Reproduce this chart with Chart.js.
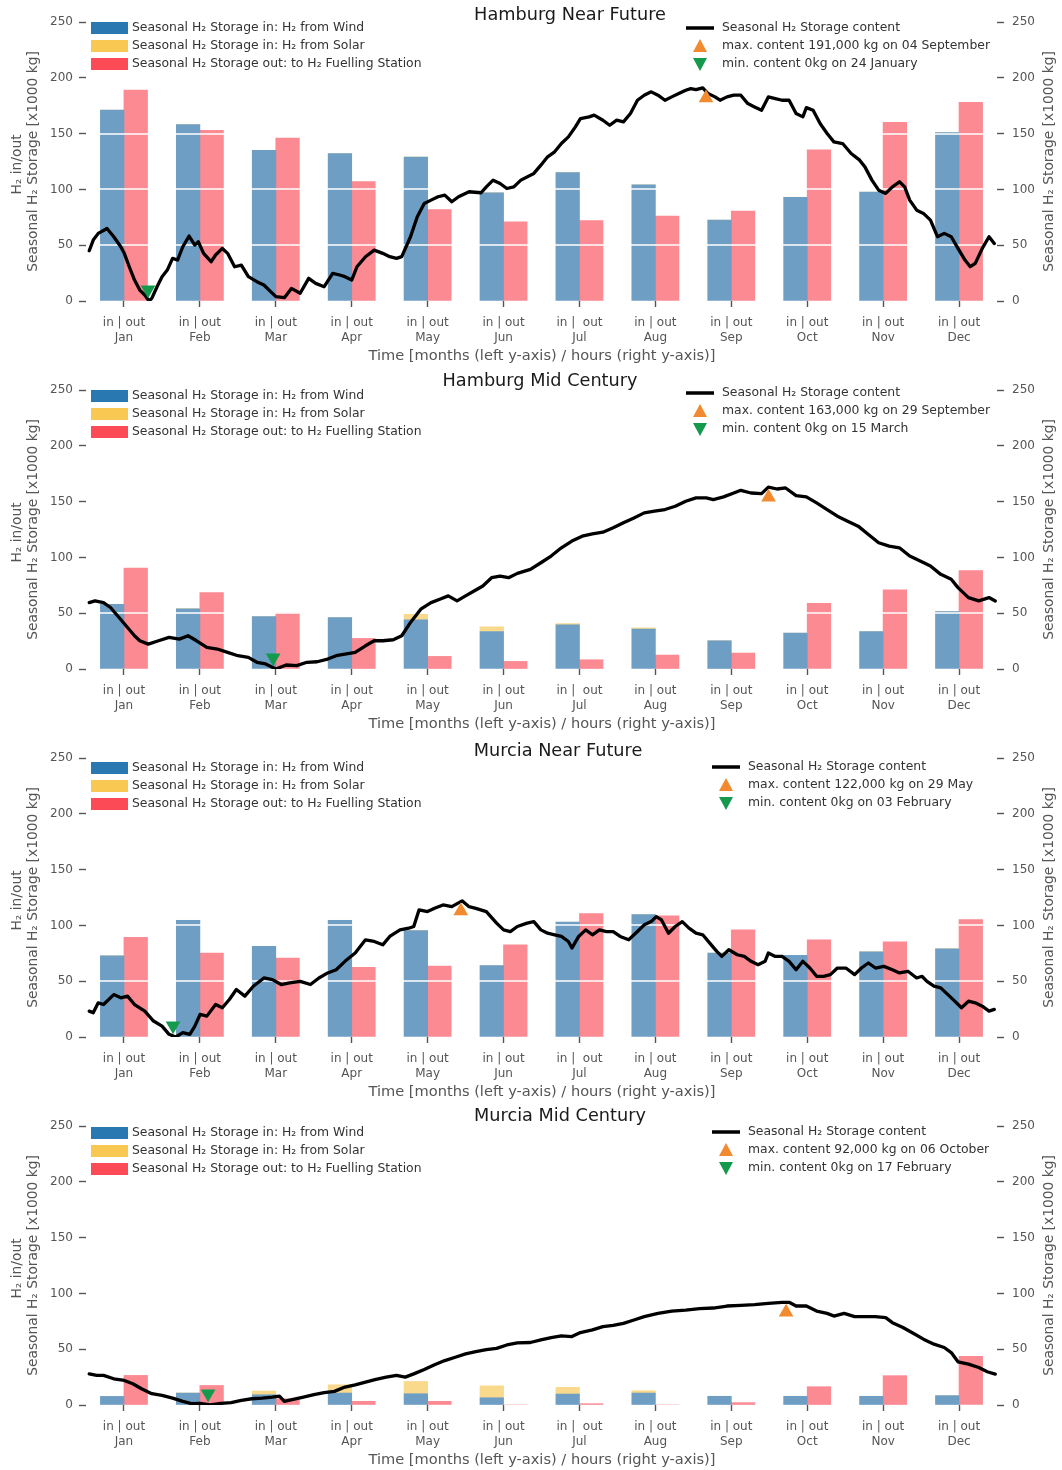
<!DOCTYPE html>
<html>
<head>
<meta charset="utf-8">
<title>Seasonal H2 storage</title>
<script src="https://cdn.jsdelivr.net/npm/chart.js@4.4.1/dist/chart.umd.min.js"></script>
<style>
    html, body { margin: 0; padding: 0; background: #fff; overflow: hidden; }
    canvas { display: block; }
</style>
</head>
<body>
<canvas id="chart0" width="1062" height="368"></canvas>
<canvas id="chart1" width="1062" height="368"></canvas>
<canvas id="chart2" width="1062" height="368"></canvas>
<canvas id="chart3" width="1062" height="368"></canvas>
<script>
// Data (x1000 kg)

const months = ['Jan', 'Feb', 'Mar', 'Apr', 'May', 'Jun', 'Jul', 'Aug', 'Sep', 'Oct', 'Nov', 'Dec'];
const inOutLabels = ['in | out', 'in | out', 'in | out', 'in | out', 'in | out', 'in | out',
    'in |  out', 'in | out', 'in | out', 'in | out', 'in | out', 'in | out'];
const yTicks = [0, 50, 100, 150, 200, 250];

// Hamburg Near Future
const hnfWind = [171, 158, 135, 132, 129, 97, 115, 104, 72.5, 93, 97.5, 151];
const hnfSolar = [0, 0, 0, 0, 0, 0, 0, 0, 0, 0, 0, 0];
const hnfOut = [189, 153, 146, 107, 82, 71, 72, 76, 80.6, 135.5, 160, 178];
const hnfDays = [0, 1.6, 3.6, 6.4, 7.1, 9.8, 12.6, 14, 16, 18.1, 20.2, 22.2, 23.9, 25, 27.1, 29.1, 31.2, 33.3, 35.3, 37.4,
    39.9, 42.2, 43.6, 45.7, 48.7, 50.5, 53.2, 55.3, 58.1, 60.8, 63.6, 67, 69.8, 72.5, 74.6, 78, 80.8, 84.3, 87.7, 90.5,
    93.9, 97.3, 100.1, 102.2, 104.9, 107, 110.4, 113.9, 117.3, 120.1, 122.8, 124.9, 128.4, 131.1, 133.9, 136.6, 139.4,
    142.1, 144.9, 147.6, 151.8, 156.6, 158.7, 161.4, 164.2, 166.9, 169.7, 172.5, 177.7, 180.5, 183.2, 186, 188.7, 191.5,
    194.3, 196.3, 199.8, 201.8, 205.3, 208, 210.8, 213.5, 216.3, 219.1, 221.8, 224.6, 227.3, 230.1, 232.8, 235.6, 238.4,
    240.4, 242.5, 245.2, 247.3, 250.1, 252.1, 254.9, 257.6, 260.4, 263.2, 265.9, 268.7, 271.4, 274.2, 276.9, 279.7,
    282.5, 285.2, 286.6, 289.3, 292.1, 294.9, 297.6, 301.1, 304.5, 307.9, 310, 312.8, 315.5, 318.3, 321, 323.8, 325.9,
    327.9, 330.7, 333.4, 336.2, 339, 341.7, 344.5, 347.2, 350, 352.1, 354.1, 356.9, 359.6, 361.7];
const hnfContent = [45, 54.6, 60.6, 64.1, 65, 57.6, 48.6, 42.7, 30.7, 18.8, 9.8, 5.4, 0, 2.4, 12.8, 21.8, 27.7, 38.2, 36.7, 48.6,
    58.2, 50.1, 53.1, 42.7, 35.2, 41.2, 47.1, 42.7, 30.7, 32.2, 21.8, 17.3, 14.3, 8.4, 3.9, 3, 11.3, 6.9, 20.3, 15.8,
    12.8, 24.8, 23.3, 21.8, 18.8, 30.7, 39.7, 45.6, 42.7, 39.7, 38.2, 39.7, 57.6, 75.5, 87.4, 90.4, 93.4,
    94.9, 88.9, 93.4, 97.9, 97, 102.3, 108.3, 105.3, 100.8, 102.3, 108.3, 114.3, 121.7, 129.2, 133.7, 141.1, 147.1,
    156, 163.5, 165, 166.5, 162, 157.5, 162, 160.5, 168, 179.9, 184.4, 187.4, 184.4, 179.9, 182.9, 185.9, 188.8,
    190.3, 189.4, 191, 185.9, 182.9, 179.9, 182.9, 184.4, 184.4, 176.9, 173.9, 170.9, 182.9, 181.4, 179.9, 179.9,
    168, 165, 173.3, 170.9, 159, 150.1, 142.6, 141.1, 132.2, 126.2, 120.2, 108.3, 99.3, 96.4, 102.3, 106.8, 102.3,
    90.4, 81.4, 78.5, 72.5, 57.6, 60.6, 57.6, 47.1, 36.7, 30.7, 33.7, 47.1, 57.6, 51.6];

// Hamburg Mid Century
const hmcWind = [58, 54, 47, 46, 44, 33.6, 39.5, 35.7, 25.3, 32.1, 33.6, 51.4];
const hmcSolar = [0, 0, 0, 0, 5, 4.2, 1.2, 1.1, 0, 0, 0, 0];
const hmcOut = [90.5, 68.5, 50, 27.4, 11.3, 6.8, 8.3, 12.5, 14.3, 58.8, 71, 88.2];
const hmcDays = [0, 2.3, 5.7, 8.5, 11.9, 15.3, 18.1, 20.2, 23.6, 27.7, 31.9, 36, 39.5, 42.9, 47, 51.2, 55.3, 59.4, 63.6, 67,
    70.5, 74.6, 78.7, 82.9, 87, 91.1, 95.3, 98.7, 102.2, 106.3, 110.4, 113.9, 117.3, 121.5, 124.9, 128.4, 132.5, 136.6,
    140.1, 143.5, 147, 150.4, 153.8, 157.3, 160.8, 164.2, 167.6, 171.1, 176.3, 180.5, 184.6, 188.7, 192.9, 197, 201.1,
    205.3, 209.4, 213.5, 217.7, 221.8, 225.9, 230.1, 234.2, 238.4, 242.5, 246.6, 249.4, 253.5, 257.6, 260.4, 264.5,
    268.7, 271.4, 274.9, 278.3, 282.5, 286.6, 290.7, 294.9, 299, 303.1, 307.3, 311.4, 315.5, 319.7, 323.8, 327.9,
    332.1, 336.2, 340.3, 344.5, 347.2, 351.4, 355.5, 359.6, 362.1];
const hmcContent = [59.5, 61, 59.5, 55.1, 46.1, 37.2, 29.8, 25.3, 22.3, 25.3, 28.3, 26.8, 29.8, 25.3, 19.3, 17.9, 14.9, 11.9, 10.4, 6,
    4.5, 0, 3.6, 3, 6, 6.5, 8.9, 11.9, 13.4, 14.9, 20.8, 25.3, 25.3, 26.2, 29.8, 41.7, 53.6, 59.5,
    62.5, 65.5, 61, 65.5, 69.9, 74.4, 81.8, 83.3, 81.8, 85.7, 89.3, 95.2, 101.2, 108.6, 114.6, 119, 121.1,
    122.6, 126.5, 131, 135.4, 139.9, 141.4, 142.9, 145.8, 150.3, 153.3, 153.3, 151.8, 154.2, 157.7, 160.1, 157.7,
    157.1, 163, 161.3, 162.2, 155.4, 154.2, 148.8, 142.9, 136.9, 132.4, 128, 120.5, 113.1, 110.1, 108.6, 101.2,
    96.7, 92.3, 84.8, 80.4, 72.9, 64, 61, 64, 61];

// Murcia Near Future
const mnfWind = [72.8, 104.6, 81.2, 104.6, 95.4, 63.9, 102.9, 109.7, 75.2, 73.1, 76.4, 79.1];
const mnfSolar = [0, 0, 0, 0, 0, 0, 0, 0, 0, 0, 0, 0];
const mnfOut = [89.2, 75.2, 70.7, 62.4, 63.6, 82.6, 110.6, 108.5, 96, 87.1, 85.3, 105.2];
const mnfDays = [0, 1.6, 3.6, 5.7, 9.8, 12.6, 15.3, 18.1, 22.2, 25.7, 29.1, 31.9, 34.6, 37.4, 40.2, 42.2, 44.3, 47, 50.5, 53.2,
    56, 58.8, 62.2, 65.6, 69.8, 73.2, 76.7, 80.1, 84.3, 88.4, 91.8, 95.3, 98.7, 102.2, 106.3, 110.4, 113.9, 117.3, 120.1,
    124.2, 127.7, 129.7, 131.8, 135.2, 138, 141.4, 144.9, 149, 151.8, 154.5, 158.7, 162.8, 165.6, 168.3, 171.1, 175,
    177.7, 180.5, 183.2, 186, 188.7, 191.5, 192.9, 195.6, 198.4, 201.1, 203.9, 206.7, 209.4, 212.2, 215.6, 219.1, 221.8,
    224.6, 226.6, 228.7, 231.5, 234.2, 237, 239.7, 242.5, 245.2, 248, 250.8, 252.8, 255.6, 259, 261.8, 264.5, 267.3,
    270.1, 271.4, 274.2, 276.9, 279.7, 282.5, 285.2, 288, 290.7, 293.5, 296.2, 299, 302.4, 305.9, 308.6, 311.4, 314.2,
    317.6, 321, 323.8, 327.2, 330.7, 332.8, 334.8, 337.6, 340.3, 343.8, 345.9, 348.6, 351.4, 354.1, 356.9, 359.6, 361.7];
const mnfContent = [23.2, 21.7, 30.6, 29.1, 38, 35.1, 36.6, 29.1, 23.2, 14.3, 9.8, 2.4, 0, 3.9, 2.4, 9.8, 20.2, 18.7, 29.1, 26.2,
    33.6, 42.5, 36.6, 45.5, 52.9, 51.4, 47, 48.5, 49.9, 47, 52.9, 57.4, 60.3, 67.8, 75.2, 87.1, 85.6, 82.6, 90.1,
    96, 97.5, 99, 113.9, 112.4, 115.3, 118.3, 116.8, 122, 116.8, 115.3, 112.4, 102, 96, 94.5, 99, 102,
    103.4, 96, 93, 91.6, 90.1, 85.6, 79.7, 90.1, 96, 91.6, 96, 94.5, 94.5, 90.1, 87.1, 94.5, 100.5,
    103.4, 107.9, 104.9, 93, 99, 103.4, 97.5, 93, 91.6, 84.1, 76.7, 72.2, 78.2, 73.7, 72.2, 67.8, 64.8,
    67.8, 75.2, 72.2, 72.2, 67.8, 60.3, 67.8, 61.8, 54.4, 54.4, 55.9, 61.8, 61.8, 55.9, 61.8, 66.3, 61.8,
    63.3, 60.3, 57.4, 58.9, 52.9, 54.4, 49.9, 45.5, 44, 36.6, 32.1, 26.2, 32.1, 30.6, 27.6, 23.2, 24.7];

// Murcia Mid Century
const mmcWind = [7.7, 10.7, 9.2, 10.7, 10.1, 6.5, 9.8, 10.7, 7.8, 7.8, 7.8, 8.4];
const mmcSolar = [0, 0, 3.3, 7.4, 11, 10.7, 6, 2.1, 0, 0, 0, 0];
const mmcOut = [26.5, 17.5, 5.6, 3.3, 3.3, 0, 1.2, 0, 2.1, 16.4, 26.3, 43.6];
const mmcDays = [0, 3, 5.7, 9.8, 14, 17.4, 20.9, 25, 29.1, 33.3, 37.4, 40.8, 44.3, 48.4, 52.6, 56.7, 60.8, 65, 69.1, 73.2,
    76, 78, 81.5, 85.6, 89.8, 93.9, 98, 102.2, 106.3, 110.4, 114.6, 118.7, 122.8, 126.3, 129.7, 133.9, 138, 142.1,
    146.3, 150.4, 154.5, 158.7, 162.8, 166.9, 171.1, 176.3, 180.5, 184.6, 188.7, 192.9, 196.3, 201.1, 205.3, 209.4,
    213.5, 217.7, 221.8, 227.3, 232.8, 238.4, 243.9, 249.4, 254.9, 260.4, 265.9, 271.4, 276.9, 279.7, 282.5, 286.6,
    290.7, 294.9, 297.6, 301.7, 305.9, 310, 314.1, 318.3, 321, 325.2, 329.3, 333.4, 337.6, 341.7, 344.5, 347.2, 351.4,
    355.5, 358.9, 362.1];
const mmcContent = [27.9, 26.5, 26.5, 23.5, 22, 19, 14.6, 10.1, 8.6, 6.2, 3.3, 1.2, 1.5, 0, 1.5, 2.1, 4.2, 5.6, 6.2, 7.1,
    8, 3.3, 5.1, 7.1, 9.2, 11, 12.2, 16.1, 18.1, 20.5, 22.9, 25, 26.5, 25, 27.9, 31.8, 36, 39.8,
    42.8, 45.8, 47.9, 49.6, 50.8, 53.8, 55.6, 56, 58.3, 60.4, 61.9, 61.3, 64.9, 67.3, 70.2, 71.4,
    73.2, 76.2, 79.2, 82.1, 84.2, 85.1, 86.3, 86.9, 88.7, 89.3, 89.9, 91.1, 92, 92, 88.7, 88.7,
    84.2, 82.1, 79.7, 82.1, 79.2, 79.2, 79.2, 78.3, 73.8, 69.4, 64.3, 59, 54.5, 51.5, 47, 38.7, 36.6,
    33.6, 29.8, 27.7];

// Max / min of storage content: value (x1000 kg), date [month index, day]
const maxContent = [191, 163, 122, 92];
const maxDates = [[8, 4], [8, 29], [4, 29], [9, 6]];
const minContent = [0, 0, 0, 0];
const minDates = [[0, 24], [2, 15], [1, 3], [1, 17]];

const titles = ['Hamburg Near Future', 'Hamburg Mid Century', 'Murcia Near Future', 'Murcia Mid Century'];
const maxTexts = ['max. content 191,000 kg on 04 September', 'max. content 163,000 kg on 29 September',
    'max. content 122,000 kg on 29 May', 'max. content 92,000 kg on 06 October'];
const minTexts = ['min. content 0kg on 24 January', 'min. content 0kg on 15 March',
    'min. content 0kg on 03 February', 'min. content 0kg on 17 February'];

// Style
const FONT = "'DejaVu Sans', 'Liberation Sans', sans-serif";
Chart.defaults.font.family = FONT;

const colors = {
    windBar: '#6e9ec4',
    solarBar: '#f9d98c',
    outBar: '#fb8a93',
    windPatch: '#2a78b2',
    solarPatch: '#f8c852',
    outPatch: '#fc4a57',
    maxMarker: '#f28b30',
    minMarker: '#139a4c',
    text: '#555',
    tick: '#555'
};

const layouts = [
    { titleX: 570, titleY: 15, leftLegendY: 28, rightLegendX: 686, rightLegendY: 28 },
    { titleX: 540, titleY: 13, leftLegendY: 28, rightLegendX: 686, rightLegendY: 25 },
    { titleX: 558, titleY: 15, leftLegendY: 32, rightLegendX: 712, rightLegendY: 31 },
    { titleX: 560, titleY: 12, leftLegendY: 29, rightLegendX: 712, rightLegendY: 28 }
];

const BAR_WIDTH = 23.6;     // px, one bar of the in|out pair
const PAIR_SHIFT = 0.155;   // fraction of a month slot, half a bar

const MONTH_DAYS = [31, 28, 31, 30, 31, 30, 31, 31, 30, 31, 30, 31];
const dateToHour = ([m, d]) => {
    let day = d - 1;
    for (let i = 0; i < m; i++) day += MONTH_DAYS[i];
    return (day + 0.5) * 24;
};

const drawTriangle = (ctx, cx, cy, half, up, color) => {
    ctx.fillStyle = color;
    ctx.beginPath();
    if (up) {
        ctx.moveTo(cx, cy - half);
        ctx.lineTo(cx + half, cy + half - 1);
        ctx.lineTo(cx - half, cy + half - 1);
    } else {
        ctx.moveTo(cx, cy + half);
        ctx.lineTo(cx + half, cy - half + 1);
        ctx.lineTo(cx - half, cy - half + 1);
    }
    ctx.closePath();
    ctx.fill();
};

// white grid lines sit on top of the bars but under the storage line
const decorPlugin = {
    id: 'decor',
    beforeDatasetDraw(chart, args) {
        if (args.index !== 3) return;
        const { ctx, chartArea } = chart;
        const scale = chart.scales.y;
        ctx.save();
        ctx.strokeStyle = '#ffffff';
        ctx.lineWidth = 1.6;
        [50, 100, 150, 200].forEach(v => {
            const py = Math.round(scale.getPixelForValue(v));
            ctx.beginPath();
            ctx.moveTo(chartArea.left, py);
            ctx.lineTo(chartArea.right, py);
            ctx.stroke();
        });
        ctx.restore();
    },
    afterDraw(chart, args, opts) {
        const { ctx, chartArea } = chart;
        const midY = (chartArea.top + chartArea.bottom) / 2;
        ctx.save();

        // title
        ctx.fillStyle = '#1a1a1a';
        ctx.font = `17.7px ${FONT}`;
        ctx.textAlign = 'center';
        ctx.textBaseline = 'middle';
        ctx.fillText(opts.title, opts.titleX, opts.titleY);

        // axis titles
        ctx.fillStyle = colors.text;
        ctx.font = `14.6px ${FONT}`;
        ctx.fillText('Time [months (left y-axis) / hours (right y-axis)]', 542, 356);

        ctx.font = `13.8px ${FONT}`;
        ctx.save();
        ctx.translate(17, midY + 3);
        ctx.rotate(-Math.PI / 2);
        ctx.fillText('H₂ in/out', 0, 0);
        ctx.restore();
        ctx.save();
        ctx.translate(33, midY);
        ctx.rotate(-Math.PI / 2);
        ctx.fillText('Seasonal H₂ Storage [x1000 kg]', 0, 0);
        ctx.restore();
        ctx.save();
        ctx.translate(1049, midY);
        ctx.rotate(-Math.PI / 2);
        ctx.fillText('Seasonal H₂ Storage [x1000 kg]', 0, 0);
        ctx.restore();

        // left legend
        ctx.font = `12.4px ${FONT}`;
        ctx.textAlign = 'left';
        const leftItems = [
            [colors.windPatch, 'Seasonal H₂ Storage in: H₂ from Wind'],
            [colors.solarPatch, 'Seasonal H₂ Storage in: H₂ from Solar'],
            [colors.outPatch, 'Seasonal H₂ Storage out: to H₂ Fuelling Station']
        ];
        leftItems.forEach(([color, text], i) => {
            const cy = opts.leftLegendY + i * 18;
            ctx.fillStyle = color;
            ctx.fillRect(91, cy - 6, 37, 12);
            ctx.fillStyle = '#333';
            ctx.fillText(text, 132, cy);
        });

        // right legend
        const lx = opts.rightLegendX;
        const ly = opts.rightLegendY;
        ctx.strokeStyle = '#000';
        ctx.lineWidth = 3.5;
        ctx.beginPath();
        ctx.moveTo(lx, ly);
        ctx.lineTo(lx + 28, ly);
        ctx.stroke();
        drawTriangle(ctx, lx + 14, ly + 18, 7, true, colors.maxMarker);
        drawTriangle(ctx, lx + 14, ly + 36, 7, false, colors.minMarker);
        ctx.fillStyle = '#333';
        ctx.fillText('Seasonal H₂ Storage content', lx + 36, ly);
        ctx.fillText(opts.maxText, lx + 36, ly + 18);
        ctx.fillText(opts.minText, lx + 36, ly + 36);

        ctx.restore();
    }
};

const tickFont = { family: FONT, size: 12 };

const yAxis = (position, width) => ({
    position,
    min: 0,
    max: 250,
    stacked: true,
    afterBuildTicks: scale => { scale.ticks = yTicks.map(v => ({ value: v })); },
    afterFit: scale => { scale.width = width; },
    ticks: { color: colors.tick, font: tickFont, padding: position === 'left' ? 6 : 8 },
    grid: { drawOnChartArea: false, drawTicks: true, tickLength: 7, tickColor: colors.tick, tickWidth: 1.4 },
    border: { display: false }
});

const barSet = (values, shift, color) => ({
    data: values.map((v, k) => ({ x: k + shift, y: v })),
    xAxisID: 'xb',
    yAxisID: 'y',
    backgroundColor: color,
    barThickness: BAR_WIDTH,
    grouped: false,
    order: 3
});

const createPanel = (canvasId, i, wind, solar, out, days, content) => {
    const layout = layouts[i];
    return new Chart(document.getElementById(canvasId), {
        type: 'bar',
        data: {
            labels: months.map((m, k) => [inOutLabels[k], m]),
            datasets: [
                barSet(wind, -PAIR_SHIFT, colors.windBar),
                barSet(solar, -PAIR_SHIFT, colors.solarBar),
                barSet(out, PAIR_SHIFT, colors.outBar),
                {
                    type: 'line',
                    data: days.map((d, k) => ({ x: d * 24, y: content[k] })),
                    xAxisID: 'xh',
                    yAxisID: 'y2',
                    borderColor: '#000',
                    borderWidth: 3.3,
                    borderJoinStyle: 'round',
                    borderCapStyle: 'round',
                    pointRadius: 0,
                    tension: 0,
                    order: 2
                },
                {
                    type: 'line',
                    data: [{ x: dateToHour(maxDates[i]), y: maxContent[i] - 9 }],
                    xAxisID: 'xh',
                    yAxisID: 'y2',
                    showLine: false,
                    pointStyle: 'triangle',
                    pointRadius: 8.5,
                    pointBorderWidth: 0,
                    pointBackgroundColor: colors.maxMarker,
                    order: 1
                },
                {
                    type: 'line',
                    data: [{ x: dateToHour(minDates[i]), y: minContent[i] + 10 }],
                    xAxisID: 'xh',
                    yAxisID: 'y2',
                    showLine: false,
                    pointStyle: 'triangle',
                    pointRotation: 180,
                    pointRadius: 8.5,
                    pointBorderWidth: 0,
                    pointBackgroundColor: colors.minMarker,
                    order: 1
                }
            ]
        },
        options: {
            responsive: false,
            animation: false,
            events: [],
            layout: { padding: { top: 22, left: 0, right: 0, bottom: 0 } },
            plugins: {
                legend: { display: false },
                tooltip: { enabled: false },
                decor: {
                    title: titles[i],
                    maxText: maxTexts[i],
                    minText: minTexts[i],
                    ...layout
                }
            },
            scales: {
                x: {
                    type: 'category',
                    offset: true,
                    afterFit: scale => { scale.height = 67; },
                    ticks: { color: colors.tick, font: tickFont, padding: 9, maxRotation: 0, autoSkip: false },
                    grid: { offset: false, drawOnChartArea: false, drawTicks: true, tickLength: 6, tickColor: colors.tick, tickWidth: 1.4 },
                    border: { display: false }
                },
                xb: { type: 'linear', display: false, offset: false, min: -0.5, max: 11.5 },
                xh: { type: 'linear', display: false, offset: false, min: -31, max: 8707 },
                y: yAxis('left', 86),
                y2: { ...yAxis('right', 65), stacked: false }
            }
        },
        plugins: [decorPlugin]
    });
};

document.addEventListener('DOMContentLoaded', () => {
    createPanel('chart0', 0, hnfWind, hnfSolar, hnfOut, hnfDays, hnfContent);
    createPanel('chart1', 1, hmcWind, hmcSolar, hmcOut, hmcDays, hmcContent);
    createPanel('chart2', 2, mnfWind, mnfSolar, mnfOut, mnfDays, mnfContent);
    createPanel('chart3', 3, mmcWind, mmcSolar, mmcOut, mmcDays, mmcContent);
});
</script>
</body>
</html>
